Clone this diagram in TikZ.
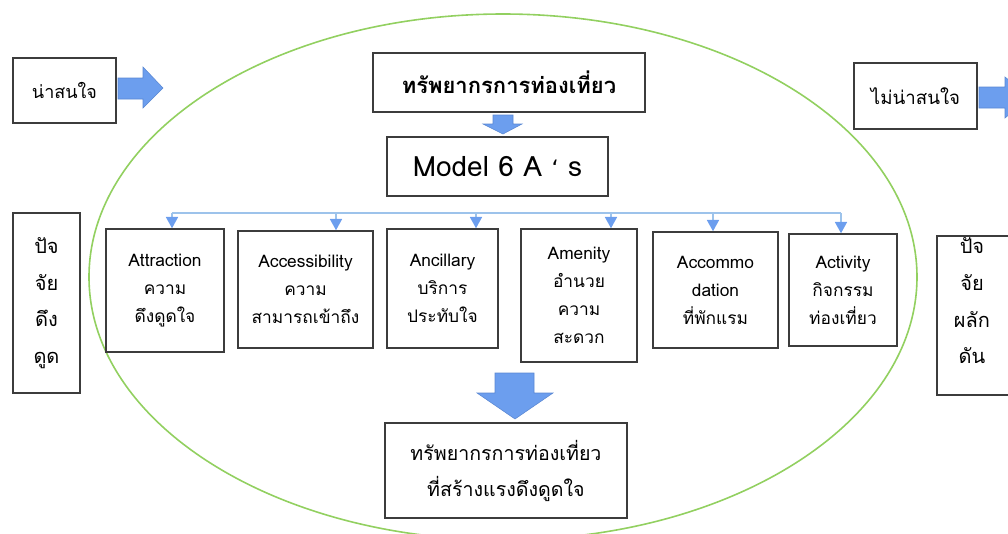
\documentclass[tikz,border=0pt]{standalone}
\usepackage{fontspec}
\setmainfont{Loma}[Script=Thai]
\newfontfamily\dvfont{DejaVu Sans}
\usetikzlibrary{arrows.meta}
\definecolor{ellgreen}{RGB}{146,208,96}
\definecolor{arrblue}{RGB}{108,158,238}
\definecolor{arredge}{RGB}{90,135,210}
\definecolor{linblue}{RGB}{157,195,235}
\definecolor{boxline}{RGB}{60,60,60}
\tikzset{
  box/.style={draw=boxline, line width=1.1pt, fill=white, align=center, inner sep=2pt},
  wh/.style 2 args={minimum width=#1*0.75pt, minimum height=#2*0.75pt},
  blockarrow/.style={fill=arrblue, draw=arredge, line width=0.4pt},
  busline/.style={draw=linblue, line width=1.3pt},
  droparrow/.style={draw=linblue, line width=1.3pt, -{Triangle[length=8.5pt,width=9pt,fill=arrblue,color=arrblue]}},
  txt/.style={font=\fontsize{13}{21}\selectfont},
}
\begin{document}
\begin{tikzpicture}[x=0.75pt,y=-0.75pt]
\useasboundingbox (0,0) rectangle (1008,533);
% ellipse
\draw[ellgreen, line width=1.2pt] (503,277) ellipse [x radius=414*0.75pt, y radius=263*0.75pt];

% side boxes
\node[box, wh={103}{65}, font=\fontsize{13.5}{18}\selectfont] (A) at (64.5,90.5) {น่าสนใจ};
\node[box, wh={123}{66}, font=\fontsize{14}{18}\selectfont] (B) at (915.5,96) {ไม่น่าสนใจ};
\node[box, wh={67}{180}, font=\fontsize{15}{27.5}\selectfont] (L) at (46.5,303) {ปัจ\\จัย\\ดึง\\ดูด};
\node[box, wh={78}{159}] (R) at (976,315.5) {};
\node[align=center, font=\fontsize{15}{27.5}\selectfont] (Rt) at (972,301) {ปัจ\\จัย\\ผลัก\\ดัน};

% side block arrows
\draw[blockarrow] (118,78) -- (143,78) -- (143,67) -- (163,88) -- (143,108) -- (143,99) -- (118,99) -- cycle;
\draw[blockarrow] (979,87) -- (1005,87) -- (1005,77) -- (1030,97) -- (1005,118) -- (1005,108) -- (979,108) -- cycle;

% title and model
\node[box, wh={272}{59}, font=\fontsize{16.5}{20}\bfseries\selectfont] (T) at (509,82.5) {ทรัพยากรการท่องเที่ยว};
\node[box, wh={221}{59}, font=\fontsize{21}{24}\selectfont] (M) at (497.5,166.5) {Model 6 A {\dvfont\fontsize{17}{20}\selectfont ‘} s};
\draw[blockarrow] (493,115) -- (513,115) -- (513,124) -- (522,124) -- (503,134) -- (483,124) -- (493,124) -- cycle;

% six A boxes
\node[box, wh={118}{123}, txt] (b1) at (165,290.5) {Attraction\\ความ\\ดึงดูดใจ};
\node[box, wh={135}{117}, txt] (b2) at (305.5,289.5) {Accessibility\\ความ\\สามารถเข้าถึง};
\node[box, wh={111}{119}, txt] (b3) at (442.5,288.5) {Ancillary\\บริการ\\ประทับใจ};
\node[box, wh={116}{133}, txt] (b4) at (579,295.5) {Amenity\\อำนวย\\ความ\\สะดวก};
\node[box, wh={125}{116}, txt] (b5) at (715.5,290) {Accommo\\dation\\ที่พักแรม};
\node[box, wh={108}{112}, txt] (b6) at (843,290) {Activity\\กิจกรรม\\ท่องเที่ยว};

% bus and drops
\coordinate (j1) at (172,213);
\coordinate (j2) at (336,213);
\coordinate (j3) at (476,213);
\coordinate (j4) at (611,213);
\coordinate (j5) at (713,213);
\coordinate (j6) at (841,213);
\draw[busline] (j1) -- (j6);
\draw[droparrow] (j1) -- (j1 |- b1.north);
\draw[droparrow] (j2) -- (j2 |- b2.north);
\draw[droparrow] (j3) -- (j3 |- b3.north);
\draw[droparrow] (j4) -- (j4 |- b4.north);
\draw[droparrow] (j5) -- (j5 |- b5.north);
\draw[droparrow] (j6) -- (j6 |- b6.north);

% big arrow and bottom box
\draw[blockarrow] (495,373) -- (534,373) -- (534,393) -- (553,393) -- (515,419) -- (477,393) -- (495,393) -- cycle;
\node[box, wh={242}{95}, font=\fontsize{14.7}{27}\selectfont] (E) at (506,470.5) {ทรัพยากรการท่องเที่ยว\\ที่สร้างแรงดึงดูดใจ};
\end{tikzpicture}
\end{document}
